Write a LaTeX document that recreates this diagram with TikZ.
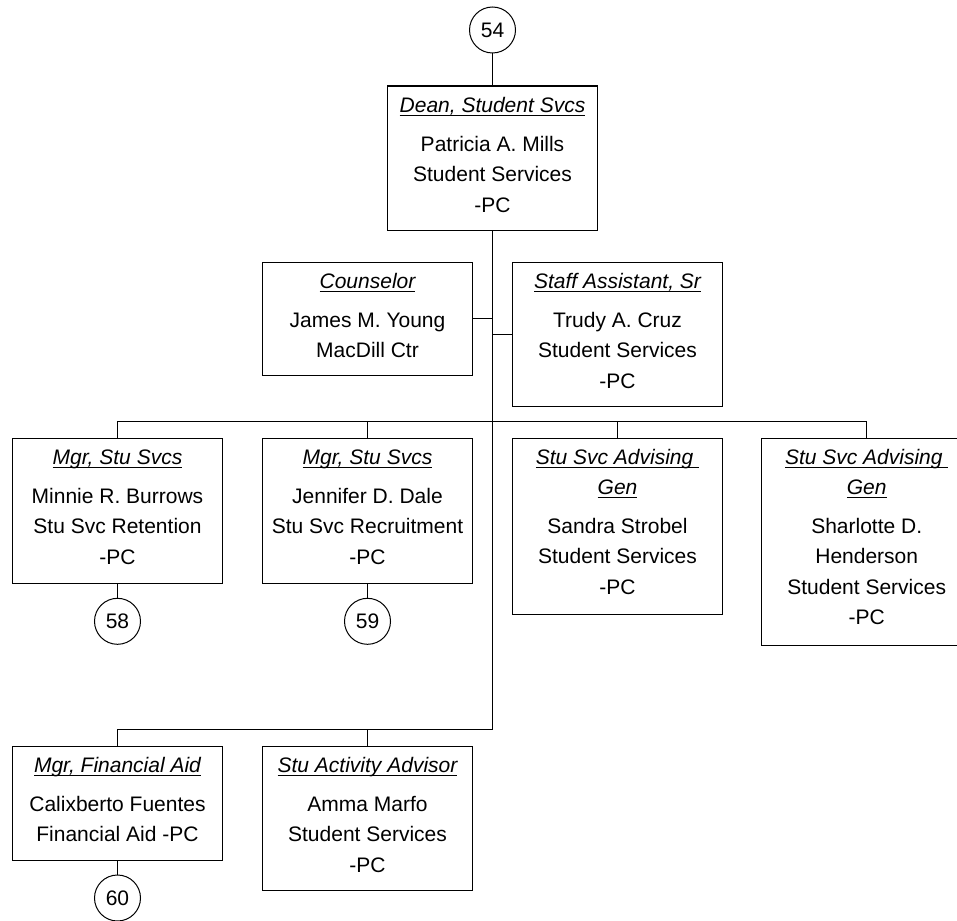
\documentclass[tikz,border=0pt]{standalone}
\usepackage{fontspec}
\setmainfont{Liberation Sans}
\newcommand\ttl[1]{\leavevmode\setbox0\hbox{\itshape #1}\rlap{\rule[-3.6pt]{\wd0}{1.2pt}}\box0}
\newcommand\bx[2]{\parbox[c][#1][t]{210pt}{\centering\fontsize{21pt}{30.5pt}\selectfont\rule{0pt}{26pt}#2}}
\begin{document}
\begin{tikzpicture}[x=1pt,y=-1pt,
  box/.style={draw,line width=1.3pt,inner sep=0pt,fill=white,anchor=north},
  circ/.style={circle,draw,line width=1pt,minimum size=46pt,inner sep=0pt,font=\fontsize{21pt}{25pt}\selectfont},
  conn/.style={line width=1.3pt}]
\clip (0,0) rectangle (957,920);
\fill[white] (0,0) rectangle (957,920);
% nodes
\node[circ] (c54) at (492.5,30) {54};
\node[box] (dean) at (492.5,85.5) {\bx{144pt}{\ttl{Dean, Student Svcs}\\[8.5pt]Patricia A. Mills\\Student Services\\-PC}};
\node[box] (couns) at (367.5,261.5) {\bx{113pt}{\ttl{Counselor}\\[8.5pt]James M. Young\\MacDill Ctr}};
\node[box] (staff) at (617.5,261.5) {\bx{144pt}{\ttl{Staff Assistant, Sr}\\[8.5pt]Trudy A. Cruz\\Student Services\\-PC}};
\node[box] (mgr1) at (117.5,437.5) {\bx{145pt}{\ttl{Mgr, Stu Svcs}\\[8.5pt]Minnie R. Burrows\\Stu Svc Retention\\-PC}};
\node[box] (mgr2) at (367.5,437.5) {\bx{145pt}{\ttl{Mgr, Stu Svcs}\\[8.5pt]Jennifer D. Dale\\Stu Svc Recruitment\\-PC}};
\node[box] (adv1) at (617.5,437.5) {\bx{176pt}{\ttl{Stu Svc Advising\ }\\\ttl{Gen}\\[8pt]Sandra Strobel\\Student Services\\-PC}};
\node[box] (adv2) at (866.7,437.5) {\bx{207pt}{\ttl{Stu Svc Advising\ }\\\ttl{Gen}\\[8pt]Sharlotte D.\\Henderson\\Student Services\\-PC}};
\node[circ] (c58) at (117.5,621.3) {58};
\node[circ] (c59) at (367.5,621.3) {59};
\node[box] (fa) at (117.5,745.5) {\bx{114pt}{\ttl{Mgr, Financial Aid}\\[8.5pt]Calixberto Fuentes\\Financial Aid -PC}};
\node[box] (saa) at (367.5,745.5) {\bx{144pt}{\ttl{Stu Activity Advisor}\\[8.5pt]Amma Marfo\\Student Services\\-PC}};
\node[circ] (c60) at (117.5,898) {60};
% junctions
\coordinate (j1) at (492.5,421.5);
\coordinate (j2) at (492.5,729.5);
% connectors
\draw[conn] (c54.south) -- (dean.north);
\draw[conn] (dean.south) -- (j2);
\draw[conn] (couns.east) -- (couns.east -| j1);
\draw[conn] (staff.west) -- (staff.west -| j1);
\draw[conn] (mgr1.north) |- (j1) -| (adv2.north);
\draw[conn] (mgr2.north) -- (mgr2.north |- j1);
\draw[conn] (adv1.north) -- (adv1.north |- j1);
\draw[conn] (mgr1.south) -- (c58.north);
\draw[conn] (mgr2.south) -- (c59.north);
\draw[conn] (fa.north) |- (j2);
\draw[conn] (saa.north) -- (saa.north |- j2);
\draw[conn] (fa.south) -- (c60.north);
\end{tikzpicture}
\end{document}
